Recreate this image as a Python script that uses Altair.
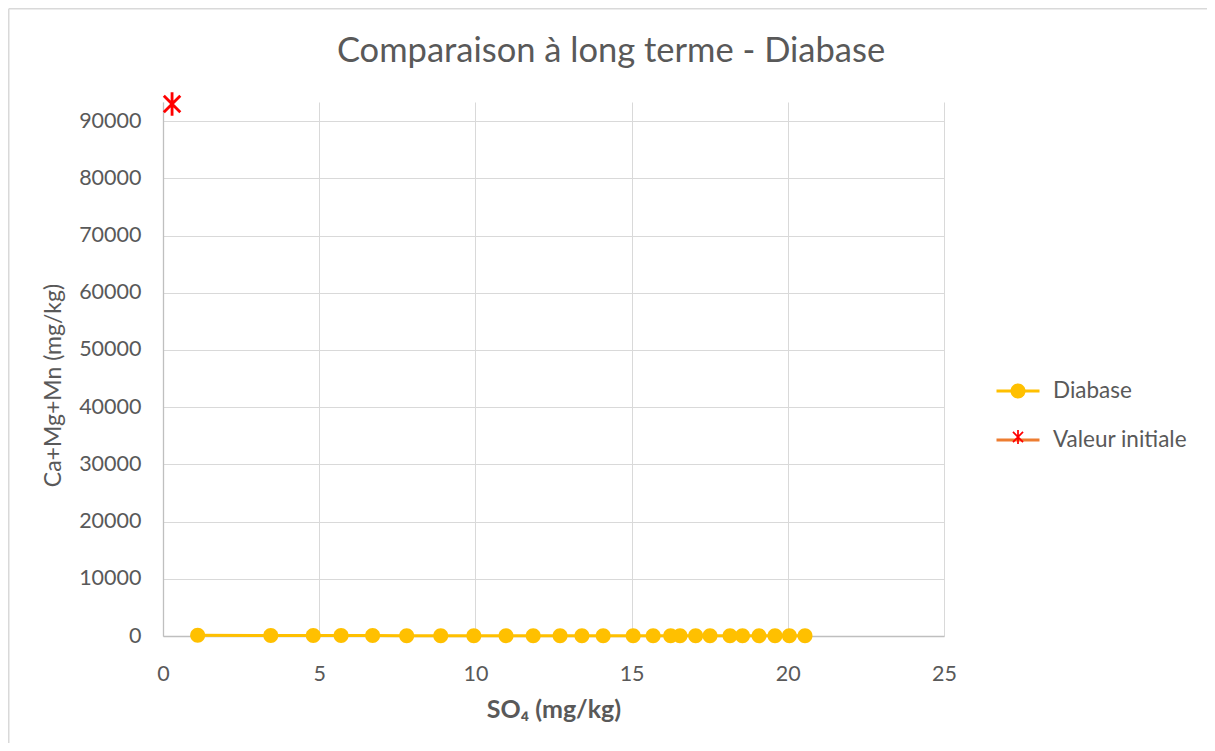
import math
import altair as alt
import pandas as pd

# ---- data ----
series_names = ["Diabase", "Valeur initiale"]
diabase_so4 = [1.11, 3.45, 4.81, 5.70, 6.71, 7.80, 8.89, 9.95, 10.98, 11.85,
               12.71, 13.41, 14.09, 15.05, 15.69, 16.25, 16.55, 17.05, 17.51,
               18.15, 18.55, 19.08, 19.59, 20.05, 20.55]
diabase_camgmn = [120, 95, 80, 75, 70, 65, 60, 58, 55, 52,
                  50, 48, 46, 44, 42, 41, 40, 39, 38,
                  37, 36, 35, 34, 33, 32]
initial_so4 = [0.29]
initial_camgmn = [93000]
x_ticks = [0, 5, 10, 15, 20, 25]
y_ticks = [0, 10000, 20000, 30000, 40000, 50000, 60000, 70000, 80000, 90000]

# ---- styling ----
FONT = "Lato, 'Noto Sans', 'DejaVu Sans', sans-serif"
TXT = "#595959"
YELLOW = "#FFC000"
ORANGE = "#ED7D31"
RED = "#FF0000"


def circle_path(r):
    return f"M{r},0 A{r},{r} 0 1,1 {-r},0 A{r},{r} 0 1,1 {r},0 Z"


def asterisk_path(a, h, angles=(90, 45, 135)):
    parts = []
    for ang in angles:
        t = math.radians(ang)
        dx, dy = math.cos(t), math.sin(t)
        nx, ny = -dy, dx
        pts = [(a * dx + h * nx, a * dy + h * ny), (a * dx - h * nx, a * dy - h * ny),
               (-a * dx - h * nx, -a * dy - h * ny), (-a * dx + h * nx, -a * dy + h * ny)]
        parts.append("M" + " L".join(f"{x:.3f},{y:.3f}" for x, y in pts) + " Z")
    return " ".join(parts)


SYM = 1849  # legend symbol size (43 px wide)
CIRCLE = circle_path(0.349)
STAR = asterisk_path(0.33, 0.04)
LEG_X = 832
LEG_Y = 266
LABEL_SIZE = 22.5

df = pd.DataFrame({
    "so4": diabase_so4 + initial_so4,
    "camgmn": diabase_camgmn + initial_camgmn,
    "series": [series_names[0]] * len(diabase_so4) + [series_names[1]] * len(initial_so4),
})
df["marker"] = df["series"]
df["idx"] = range(len(df))

x_enc = alt.X("so4:Q", scale=alt.Scale(domain=[0, 25], nice=False, zero=False),
              axis=alt.Axis(values=x_ticks, title="SO₄ (mg/kg)", titleFontWeight="bold",
                            titleFontSize=25, titleBaseline="alphabetic", titleY=81,
                            labelPadding=27, labelFlush=False))
y_enc = alt.Y("camgmn:Q", scale=alt.Scale(domain=[0, 93350], nice=False),
              axis=alt.Axis(values=y_ticks, format="d", title="Ca+Mg+Mn (mg/kg)",
                            titleFontWeight="normal", titleFontSize=23,
                            titleX=-98, titleY=283, labelPadding=22))

base = alt.Chart(df)

lines = base.mark_line(strokeWidth=3).encode(
    x=x_enc, y=y_enc,
    stroke=alt.Stroke("series:N",
                      scale=alt.Scale(domain=series_names, range=[YELLOW, ORANGE]),
                      legend=alt.Legend(orient="none", legendX=LEG_X, legendY=LEG_Y, title=None,
                                        symbolType="M-1,0L1,0", symbolSize=SYM,
                                        symbolStrokeWidth=3, rowPadding=14, padding=0,
                                        labelFontSize=LABEL_SIZE, labelColor=TXT, labelFont=FONT,
                                        labelOffset=12)),
    order="idx:Q",
)

points = base.mark_point(filled=True, opacity=1, strokeWidth=0).encode(
    x=x_enc, y=y_enc,
    shape=alt.Shape("marker:N", scale=alt.Scale(domain=series_names, range=[CIRCLE, STAR]),
                    legend=alt.Legend(orient="none", legendX=LEG_X, legendY=LEG_Y, title=None,
                                      symbolSize=SYM, symbolStrokeWidth=3, rowPadding=9,
                                      padding=0, labelFontSize=LABEL_SIZE, labelOpacity=0,
                                      labelFont=FONT, labelOffset=12)),
    fill=alt.Fill("marker:N", scale=alt.Scale(domain=series_names, range=[YELLOW, RED])),
    size=alt.Size("marker:N", scale=alt.Scale(domain=series_names, range=[SYM, 4980]),
                  legend=None),
)

# chart frame (top and left edges visible in the reference)
frame = pd.DataFrame({"k": [0]})
frame_top = alt.Chart(frame).mark_rule(color="#D9D9D9", strokeWidth=1.5).encode(
    x=alt.value(-154.25), x2=alt.value(1100), y=alt.value(-93.25))
frame_left = alt.Chart(frame).mark_rule(color="#D9D9D9", strokeWidth=1.5).encode(
    x=alt.value(-154.25), y=alt.value(-93.25), y2=alt.value(700))

chart = alt.layer(frame_top, frame_left, lines, points).resolve_legend(
    stroke="independent", shape="independent", fill="independent"
).properties(
    width=781, height=534,
    autosize=alt.AutoSizeParams(type="none"),
    padding={"left": 155, "top": 94, "right": 263, "bottom": 107},
    title=alt.Title("Comparaison à long terme - Diabase", fontSize=34.5, font=FONT,
                    color=TXT, fontWeight="normal", anchor="middle", frame="group",
                    offset=0, baseline="alphabetic", dx=57.5, dy=88),
).configure_axis(
    labelFont=FONT, labelFontSize=21.5, labelColor=TXT, titleFont=FONT, titleColor=TXT,
    gridColor="#D9D9D9", gridWidth=1, domainColor="#BFBFBF", domainWidth=1.3, ticks=False,
).configure_view(strokeWidth=0)

chart.save("out.html", embed_options={"renderer": "svg", "actions": False})
